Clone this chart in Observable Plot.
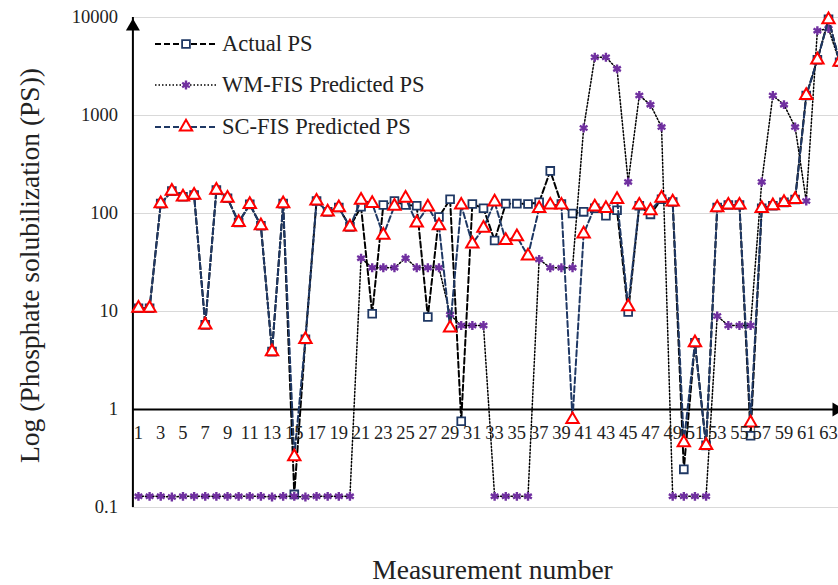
<!DOCTYPE html>
<html><head><meta charset="utf-8">
<script src="https://cdn.jsdelivr.net/npm/d3@7"></script>
<script src="https://cdn.jsdelivr.net/npm/@observablehq/plot@0.6"></script>
<style>
html,body{margin:0;padding:0;background:#fff;overflow:hidden;}
#wrap{position:relative;width:838px;height:585px;overflow:hidden;font-family:'Liberation Serif','Times New Roman',serif;}
#legend{position:absolute;left:155px;top:23px;}
.item{display:flex;align-items:center;height:41.5px;font-size:22.5px;color:#222;white-space:nowrap;}
.item svg{margin-right:5px;}
</style></head><body><div id="wrap"><div id="legend"></div></div>
<script>
const measurement = [1,2,3,4,5,6,7,8,9,10,11,12,13,14,15,16,17,18,19,20,21,22,23,24,25,26,27,28,29,30,31,32,33,34,35,36,37,38,39,40,41,42,43,44,45,46,47,48,49,50,51,52,53,54,55,56,57,58,59,60,61,62,63,64];
const actualPS = [10.8,10.8,126,169,148,154,7.3,173,143,81,124,75,3.9,126,0.136,5.2,134,104,115,73,117,9.5,122,134,122,120,8.8,92,140,0.76,125,113,53,126,126,125,130,272,125,100,104,113,95,108,9.9,120,98,140,131,0.245,4.8,0.43,115,122,122,0.54,113,120,130,139,1600,3700,9600,3500];
const wmFisPS = [0.13,0.13,0.13,0.128,0.13,0.13,0.13,0.13,0.13,0.13,0.13,0.13,0.128,0.13,0.13,0.128,0.13,0.13,0.13,0.13,35,28,28,28,35,28,28,28,9.3,7.2,7.2,7.2,0.13,0.13,0.13,0.13,34,28,28,28,745,3930,3930,2990,210,1600,1290,762,0.13,0.13,0.13,0.13,9.0,7.2,7.2,7.2,210,1600,1290,762,134,7340,7700,3500];
const scFisPS = [10.8,10.8,126,169,148,154,7.3,173,143,81,124,75,3.9,126,0.33,5.2,134,104,115,73,137,127,60,119,143,80,117,75,6.8,122,49,71,131,53,58,37,113,122,122,0.79,62,117,113,139,11.2,122,107,143,131,0.46,4.8,0.43,115,122,122,0.73,113,120,130,139,1600,3700,9500,3500];
const xTickLabels = ["1","3","5","7","9","11","13","15","17","19","21","23","25","27","29","31","33","35","37","39","41","43","45","47","49","51","53","55","57","59","61","63"];
const yTickValues = [0.1,1,10,100,1000,10000];
const yTickLabels = ["0.1","1","10","100","1000","10000"];
const seriesNames = ["Actual PS","WM-FIS Predicted PS","SC-FIS Predicted PS"];
const yTitle = "Log (Phosphate solubilization (PS))";
const xTitle = "Measurement number";

const navy = "#1F3864", red = "#FF0000", purple = "#7030A0";
const font = "'Liberation Serif','Times New Roman',serif";
const rows = measurement.map((m, i) => ({m, actual: actualPS[i], wm: wmFisPS[i], sc: scFisPS[i]}));

const chart = Plot.plot({
  width: 838, height: 585,
  marginTop: 17, marginBottom: 78, marginLeft: 132, marginRight: 0,
  style: {fontFamily: font, background: "white", overflow: "hidden", color: "#222"},
  x: {domain: [0.5, 64.5], range: [132.4, 844.7], axis: null},
  y: {type: "log", domain: [0.1, 10000], axis: null},
  marks: [
    Plot.ruleY(yTickValues.filter(v => v !== 1), {stroke: "#d9d9d9", strokeWidth: 1}),
    Plot.ruleY([1], {stroke: "black", strokeWidth: 2}),
    Plot.ruleX([0.5], {y1: 0.1, y2: 10000, stroke: "black", strokeWidth: 2}),
    Plot.dot([0], {x: 0.5, y: 10000, symbol: "triangle", r: 5.2, fill: "black", stroke: null, dy: 9}),
    Plot.dot([0], {x: 63.72, y: 1, symbol: "triangle", r: 5.2, fill: "black", stroke: null, rotate: 90}),
    Plot.line(rows, {x: "m", y: "actual", stroke: "black", strokeWidth: 2, strokeDasharray: "6,3"}),
    Plot.dot(rows, {x: "m", y: "actual", symbol: "square", r: 4.4, fill: "white", stroke: navy, strokeWidth: 1.8}),
    Plot.line(rows, {x: "m", y: "wm", stroke: "black", strokeWidth: 1.5, strokeDasharray: "1.5,2"}),
    Plot.dot(rows, {x: "m", y: "wm", symbol: "asterisk", r: 4.2, stroke: purple, strokeWidth: 2.4}),
    Plot.line(rows, {x: "m", y: "sc", stroke: navy, strokeWidth: 2, strokeDasharray: "6,3"}),
    Plot.dot(rows, {x: "m", y: "sc", symbol: "triangle", r: 4.6, fill: "white", stroke: red, strokeWidth: 2}),
    Plot.text(xTickLabels, {x: d => +d, y: 1, text: d => d, dy: 23.5, fontSize: 18.5, fill: "#222"}),
    Plot.text(yTickValues, {x: 0.5, y: d => d, text: (d, i) => yTickLabels[i], textAnchor: "end", dx: -15, fontSize: 18.5, fill: "#222"}),
    Plot.text([yTitle], {frameAnchor: "left", textAnchor: "middle", lineAnchor: "middle", rotate: -90, dx: -102, dy: 3, fontSize: 27.5, fill: "#222"}),
    Plot.text([xTitle], {frameAnchor: "bottom", lineAnchor: "middle", dx: 7, dy: 62.4, fontSize: 27.5, fill: "#222"})
  ]
});
document.getElementById("wrap").prepend(chart);

// legend
const legendStyles = [
  {stroke: "black", dash: "6,3", width: 2, marker: "square"},
  {stroke: "black", dash: "1.5,2", width: 1.5, marker: "asterisk"},
  {stroke: navy, dash: "6,3", width: 2, marker: "triangle"}
];
const legend = document.getElementById("legend");
seriesNames.forEach((name, i) => {
  const s = legendStyles[i];
  const item = document.createElement("div");
  item.className = "item";
  const svg = d3.create("svg").attr("width", 62).attr("height", 20);
  svg.append("line").attr("x1", 0).attr("x2", 62).attr("y1", 10).attr("y2", 10)
    .attr("stroke", s.stroke).attr("stroke-width", s.width).attr("stroke-dasharray", s.dash);
  const g = svg.append("g").attr("transform", "translate(31,10)");
  if (s.marker === "square") {
    g.append("path").attr("d", d3.symbol(d3.symbolSquare, Math.PI * 4.4 * 4.4)()).attr("fill", "white").attr("stroke", navy).attr("stroke-width", 1.8);
  } else if (s.marker === "asterisk") {
    g.append("path").attr("d", d3.symbol(d3.symbolAsterisk, Math.PI * 4.2 * 4.2)()).attr("fill", "none").attr("stroke", purple).attr("stroke-width", 2.4);
  } else {
    g.append("path").attr("d", d3.symbol(d3.symbolTriangle, Math.PI * 4.6 * 4.6)()).attr("fill", "white").attr("stroke", red).attr("stroke-width", 2);
  }
  item.appendChild(svg.node());
  const span = document.createElement("span");
  span.textContent = name;
  item.appendChild(span);
  legend.appendChild(item);
});
</script></body></html>
